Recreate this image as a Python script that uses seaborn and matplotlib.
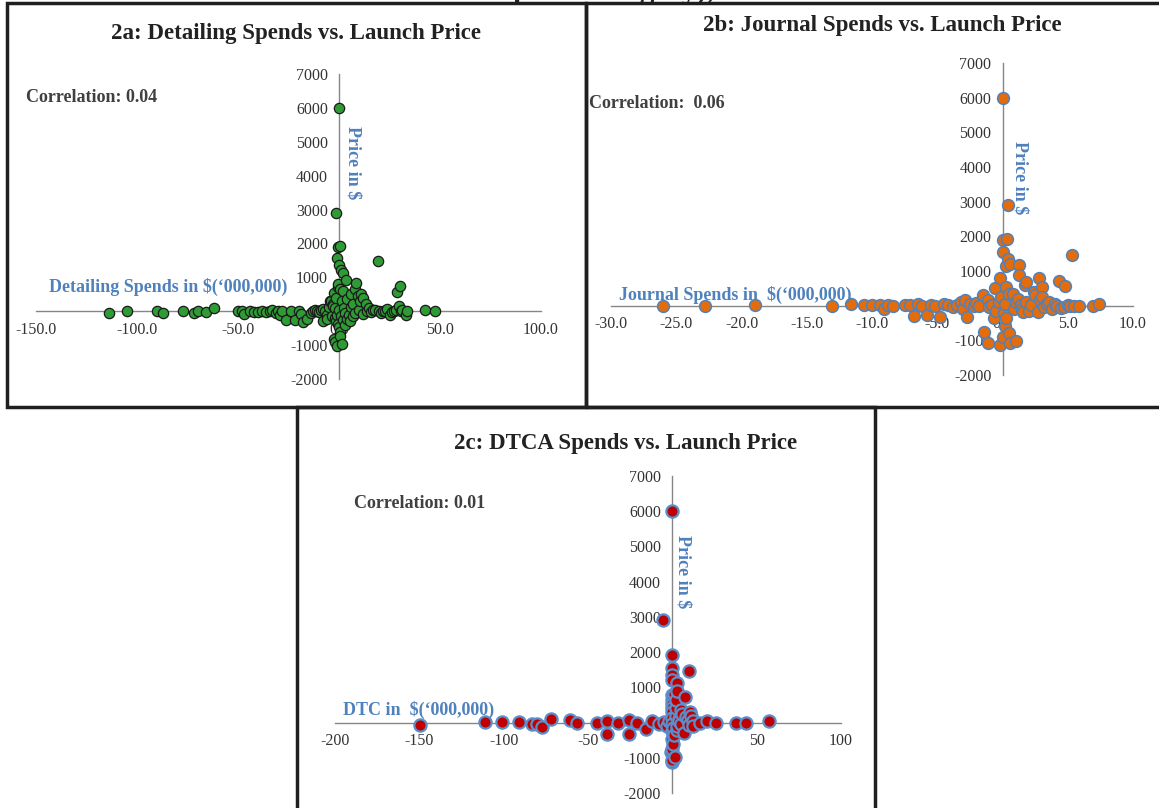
"""
Promotional spends vs. launch price: three Excel-style scatter panels
"""

import matplotlib
matplotlib.use('Agg')
import matplotlib.pyplot as plt
import seaborn as sns
from matplotlib.patches import Rectangle
from matplotlib.ticker import MultipleLocator, FormatStrFormatter

sns.set_theme(style='white')
plt.rcParams['font.family'] = ['Liberation Serif', 'DejaVu Serif']
plt.rcParams['axes.unicode_minus'] = False

W, H = 1159, 808

# ---- 2a: detailing spends ($'000,000) vs launch price ($)
detail_x = [-114, -105, -90, -87, -77, -72, -70, -66, -62, -50, -48, -47, -44, -42, -40, -38,
            -36, -34, -33, -31, -30, -29, -28, -26, -24, -22, -20, -19, -18, -16, -14, -13,
            -12, -11, -10, -9, -8, -8, -7, -6, -6, -5, -4.3, -4, -3.6, -3, -3, -2.6, -2.6, -2,
            -2, -1.8, -1.5, -1.5, -1.3, -1, -1, -0.8, -0.7, -0.5, -0.5, -0.5, 0, 0, 0, 0.2,
            0.4, 0.5, 0.6, 0.6, 1, 1, 1.3, 1.5, 2, 2, 2.2, 2.5, 3, 3, 3.5, 4, 4, 5, 5.5, 6,
            6, 7, 7, 8, 8.1, 8.6, 9.2, 10, 10.5, 11, 12, 12, 13.3, 14, 15, 16, 17, 18, 19.3,
            20, 21, 22, 23, 24, 25, 26, 27, 28, 28.7, 29.7, 30, 30.5, 31, 33, 33.7, 42.7, 47.7]
detail_y = [-40, 10, 20, -40, 20, -50, 10, -30, 90, 20, 10, -70, 0, -20, -20, 20,
            -30, 10, 30, -60, 20, -120, 20, -270, 10, -270, 0, -80, -330, -240, -40, 20,
            40, 0, -30, 30, 60, -300, 10, -100, -240, 120, 300, 300, -140, 200, 150, 550, -830, 100,
            -200, -920, 2900, 400, -285, 1560, -100, -1020, 720, 1900, 800, -380, 6000, 50, -480, 1370,
            -600, 650, 1920, -730, 1220, -150, -970, 300, 600, -250, 1140, 100, -50, -400, 910, 350, -216, -100, -300, 110,
            500, 200, -150, -50, 650, 830, 450, 30, 300, 500, 380, -80, 200, 0, 100, -20, 50, 40, 1480,
            20, -60, 0, 20, 60, -100, -30, 10, 40, 570, 150, 750, 0, 30, -120, 10, 40, 10]

# ---- 2b: journal spends ($'000,000) vs launch price ($)
journal_x = [-26, -22.8, -19, -13.1, -11.6, -10.6, -10, -9.4, -9.1, -8.75, -8.4, -7.5, -7.1, -6.8,
             -6.5, -6.2, -5.8, -5.5, -5.2, -4.8, -4.5, -4.2, -3.8, -3.5, -3.2, -3, -2.9, -2.7, -2.5,
             -2.2, -2, -1.8, -1.5, -1.4, -1.1, -1.1, -1, -0.8, -0.65, -0.6, -0.5, -0.3, -0.2, -0.2,
             -0.1, 0, 0, 0, 0, 0.1, 0.2, 0.2, 0.3, 0.3, 0.3, 0.35, 0.4, 0.45, 0.5, 0.5, 0.6, 0.6,
             0.8, 0.9, 1.0, 1.03, 1.2, 1.26, 1.26, 1.4, 1.5, 1.6, 1.7, 1.8, 1.8, 2, 2.2, 2.4, 2.5,
             2.7, 2.8, 2.9, 3.0, 3.0, 3.2, 3.4, 3.6, 3.8, 4, 4.2, 4.3, 4.5, 4.7, 4.8, 5, 5.2, 5.3,
             5.5, 5.9, 6.9, 7.4]
journal_y = [0, -10, 10, -10, 40, 10, 20, 10, -100, 10, 0, 10, 20, -300,
             50, 0, -270, 30, -20, -320, 60, 10, -30, 30, 100, -90, 150, -320, 50,
             -20, 80, 0, 300, -750, -1085, 160, -50, 20, -365, 500, -150, 100, 790, -1130,
             250, 6000, 1900, 1560, -890, -200, -600, 50, 1130, -365, 550, 1920, 2900, 1340, -800, 350, 1190, -1085,
             350, -100, 100, -1020, 200, 1170, 890, 30, -100, -180, 600, 690, 100, -150, 20, 400, 300,
             -180, 790, 150, 550, 250, -50, 50, 120, -100, 40, 0, 720, -60, -50, 570, 30, -20, 1460,
             0, -10, -20, 60]

# ---- 2c: DTC spends ($'000,000) vs launch price ($)
dtc_x = [-149.7, -111, -101, -91, -83, -80.5, -77.4, -71.8, -60.5, -56.8, -44.6, -39, -39,
         -32.4, -25.8, -25.6, -21, -15.9, -12.3, -8, -5.5, -5, -3, -2, -0.5,
         0, 0, 0, 0, 0, 0, 0, 0, 0, 0, 0, 0, 0, 0, 0, 0, 0,
         0.5, 0.5, 1, 1, 1.5, 2, 2, 2.2, 2.9, 2.9, 3, 3, 4, 4, 5, 5, 6,
         7, 7.4, 8, 9.4, 9.6, 10, 10.6, 11, 12, 12, 16.2, 20.7, 26, 37.9, 43.9, 57.2]
dtc_y = [-60, 20, 20, 20, -40, -30, -130, 90, 60, -20, -20, 30, -335,
         0, -335, 60, -20, -190, 50, -30, 2900, 20, -100, 40, -850,
         6000, 1910, 1560, 1360, 1200, 780, 650, 540, 420, 300, 120, -50, -250, -455, -740, -1120, -1050,
         -600, -150, -350, 800, -975, 200, 400, 630, 1120, 900, -200, -100, 100, 50, -50, 350, 250,
         -300, 730, 150, 70, 1470, -80, 300, 200, 50, -100, 0, 50, -20, -20, -20, 30]

GRAY = '#868686'
TXT = '#333333'
BLUE = '#4F81BD'


def make_axes(fig, left, top, right, bottom):
    return fig.add_axes([left / W, 1 - bottom / H, (right - left) / W, (bottom - top) / H])


def style_axes(ax, xlim, xstep, xfmt):
    ax.set_xlim(*xlim)
    ax.set_ylim(-2000, 7000)
    for s in ['top', 'right']:
        ax.spines[s].set_visible(False)
    for s in ['left', 'bottom']:
        ax.spines[s].set_position(('data', 0))
        ax.spines[s].set_color(GRAY)
        ax.spines[s].set_linewidth(1.0)
    ax.xaxis.set_major_locator(MultipleLocator(xstep))
    ax.yaxis.set_major_locator(MultipleLocator(1000))
    ax.xaxis.set_major_formatter(FormatStrFormatter(xfmt))
    ax.yaxis.set_major_formatter(FormatStrFormatter('%d'))
    ax.tick_params(axis='x', direction='inout', length=5, width=0.8, color=GRAY,
                   labelsize=11.5, labelcolor=TXT, pad=5)
    ax.tick_params(axis='y', direction='out', length=4, width=0.8, color=GRAY,
                   labelsize=11.5, labelcolor=TXT, pad=4)
    ax.set_xlabel('')
    ax.set_ylabel('')
    ax.grid(False)
    ax.patch.set_alpha(0)


def ftext(fig, x, y, s, **kw):
    fig.text(x / W, 1 - y / H, s, **kw)


fig = plt.figure(figsize=(W / 100, H / 100), dpi=100)

# panel 2a
ax1 = make_axes(fig, 36, 74, 541, 379)
sns.scatterplot(x=detail_x, y=detail_y, ax=ax1, color='#2F9B35', edgecolor='#1a1a1a',
                linewidth=0.9, s=55, zorder=3, clip_on=False)
style_axes(ax1, (-150, 100), 50, '%.1f')

# panel 2b
ax2 = make_axes(fig, 611, 63, 1133, 375)
sns.scatterplot(x=journal_x, y=journal_y, ax=ax2, color='#E46C0A', edgecolor=BLUE,
                linewidth=1.1, s=72, zorder=3, clip_on=False)
style_axes(ax2, (-30, 10), 5, '%.1f')

# panel 2c
ax3 = make_axes(fig, 335, 476, 841, 793)
sns.scatterplot(x=dtc_x, y=dtc_y, ax=ax3, color='#C00000', edgecolor='#5B8FCB',
                linewidth=1.6, s=78, zorder=3, clip_on=False)
style_axes(ax3, (-200, 100), 50, '%d')

# titles
title_kw = dict(fontsize=16.5, fontweight='bold', color='#222222', ha='center', va='center')
ftext(fig, 296, 33, '2a: Detailing Spends vs. Launch Price', **title_kw)
ftext(fig, 882, 26, '2b: Journal Spends vs. Launch Price', **title_kw)
ftext(fig, 626, 443, '2c: DTCA Spends vs. Launch Price', **title_kw)

# correlation notes
corr_kw = dict(fontsize=13, fontweight='bold', color='#404040', ha='left', va='center')
ftext(fig, 26, 97, 'Correlation: 0.04', **corr_kw)
ftext(fig, 589, 103, 'Correlation:  0.06', **corr_kw)
ftext(fig, 354, 503, 'Correlation: 0.01', **corr_kw)

# axis captions placed like Excel
lab_kw = dict(fontsize=13, fontweight='bold', color=BLUE, ha='left', va='center')
ftext(fig, 49, 287, 'Detailing Spends in \\$(\u2018000,000)', **lab_kw)
ftext(fig, 619, 295, 'Journal Spends in  \\$(\u2018000,000)', **lab_kw)
ftext(fig, 343, 710, 'DTC in  \\$(\u2018000,000)', **lab_kw)

price_kw = dict(fontsize=13, fontweight='bold', color=BLUE, ha='center', va='center', rotation=270)
ftext(fig, 353, 163, 'Price in \\$', **price_kw)
ftext(fig, 1020, 178, 'Price in \\$', **price_kw)
ftext(fig, 683, 572, 'Price in \\$', **price_kw)

# clipped heading above the panels (only its descenders show, as in the source)
fig.text(497 / W, 1 + 1 / H, 'Spend Category),', fontsize=21, fontweight='bold',
         color='#222222', ha='left', va='baseline')

# panel borders
for (x0, y0, x1, y1) in [(7, 3, 586, 407), (586, 3, 1170, 407), (297, 407, 875, 820)]:
    fig.add_artist(Rectangle((x0 / W, 1 - y1 / H), (x1 - x0) / W, (y1 - y0) / H,
                             transform=fig.transFigure, fill=False, lw=2.5,
                             ec='#1f1f1f', zorder=10))

plt.savefig('out.png', dpi=100)
plt.close()
